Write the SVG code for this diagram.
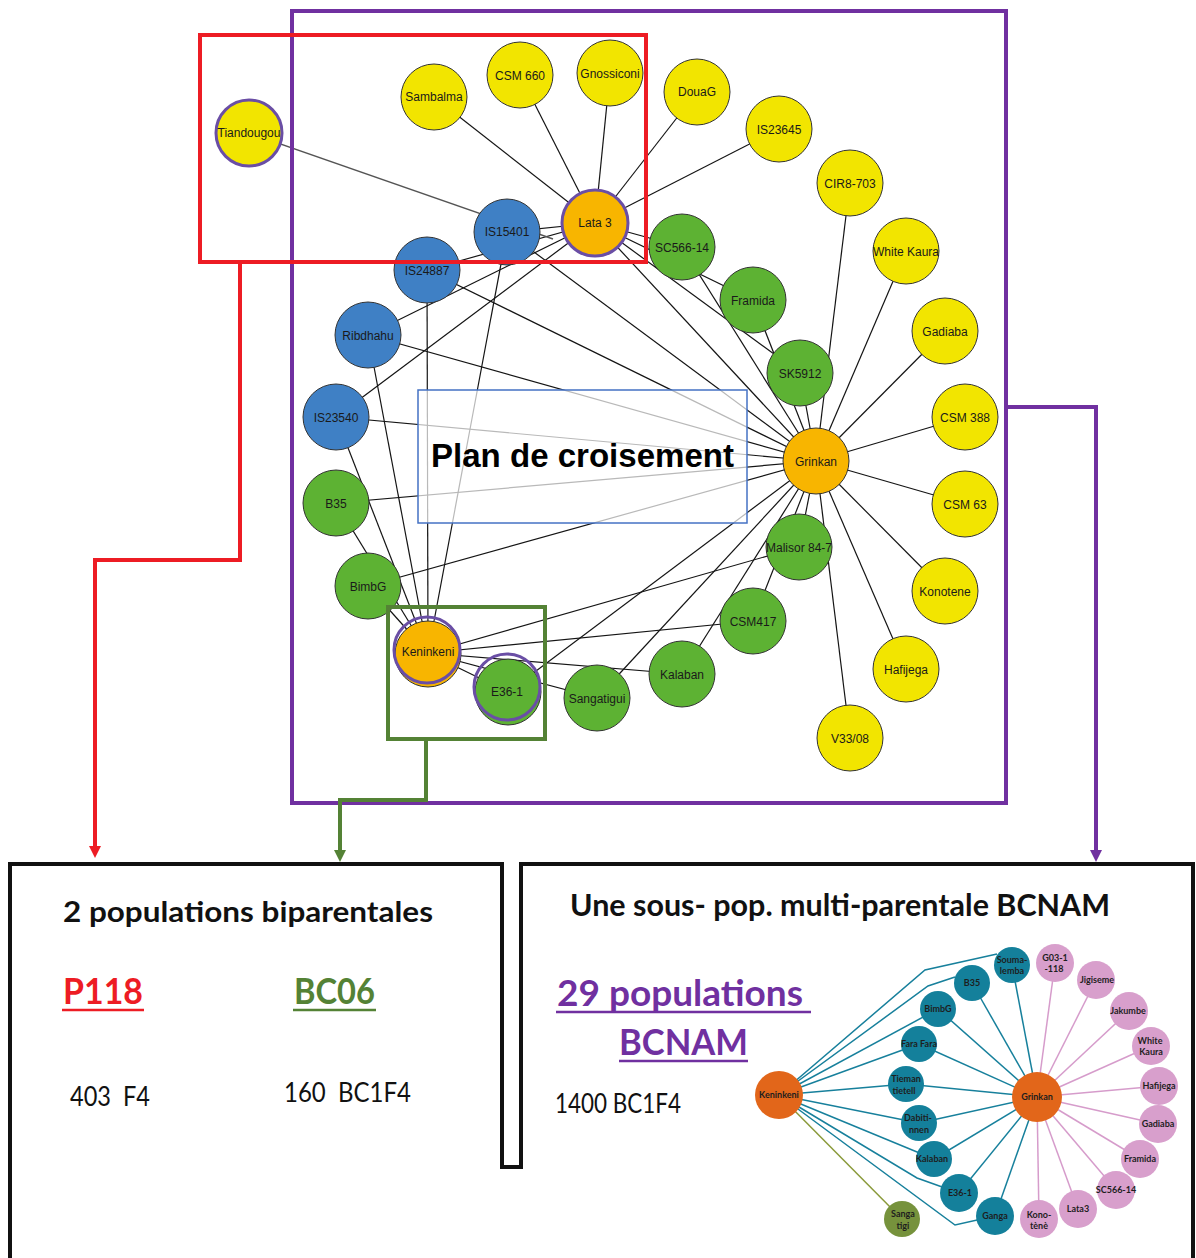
<svg xmlns="http://www.w3.org/2000/svg" width="1196" height="1258" viewBox="0 0 1196 1258">
<defs>
<style>
.e{stroke:#141414;stroke-width:1.2;fill:none}
.nd{stroke:#333;stroke-width:1}
.y{fill:#f2e500}
.bl{fill:#3f80c5}
.gr{fill:#5db233}
.or{fill:#f8b500}
.ring{fill:none;stroke:#6a4ea5;stroke-width:3}
.t{font-family:"Liberation Sans",Arial,sans-serif;font-size:12px;fill:#1a1a1a;text-anchor:middle}
.se{stroke:#17809c;stroke-width:1.5;fill:none}
.pe{stroke:#d69ccb;stroke-width:1.5;fill:none}
.te{fill:#14809b}
.pk{fill:#d89fcc}
.og{fill:#e2661a}
.ol{fill:#76923c}
.st{font-family:Lato,"Liberation Sans",sans-serif;font-weight:bold;font-size:9px;fill:#1e1e1e;text-anchor:middle}
.hd{font-family:Lato,"Liberation Sans",sans-serif;font-weight:bold;fill:#111}
.big{font-family:Lato,"Liberation Sans",sans-serif;font-weight:bold;font-size:37px}
.num{font-family:Lato,"Liberation Sans",sans-serif;font-size:26px;fill:#111;white-space:pre}
.frame{fill:none;stroke-width:4}
</style>
<marker id="mR" viewBox="0 0 12 12" markerWidth="12" markerHeight="12" refX="1" refY="6" orient="auto" markerUnits="userSpaceOnUse"><path d="M0,0 L12,6 L0,12 z" fill="#ed1c24"/></marker>
<marker id="mG" viewBox="0 0 12 12" markerWidth="12" markerHeight="12" refX="1" refY="6" orient="auto" markerUnits="userSpaceOnUse"><path d="M0,0 L12,6 L0,12 z" fill="#548235"/></marker>
<marker id="mP" viewBox="0 0 12 12" markerWidth="12" markerHeight="12" refX="1" refY="6" orient="auto" markerUnits="userSpaceOnUse"><path d="M0,0 L12,6 L0,12 z" fill="#7030a0"/></marker>
</defs>
<rect width="1196" height="1258" fill="#fff"/>

<g id="connectors">
<!-- Lata 3 -->
<line class="e" x1="595" y1="223" x2="434" y2="97"/>
<line class="e" x1="595" y1="223" x2="520" y2="75"/>
<line class="e" x1="595" y1="223" x2="610" y2="73"/>
<line class="e" x1="595" y1="223" x2="697" y2="92"/>
<line class="e" x1="595" y1="223" x2="779" y2="129"/>
<line class="e" x1="595" y1="223" x2="507" y2="232"/>
<line class="e" x1="595" y1="223" x2="427" y2="270"/>
<line class="e" x1="595" y1="223" x2="368" y2="335"/>
<line class="e" x1="595" y1="223" x2="336" y2="417"/>
<line class="e" x1="595" y1="223" x2="682" y2="247"/>
<line class="e" x1="595" y1="223" x2="753" y2="300"/>
<line class="e" x1="595" y1="223" x2="800" y2="373"/>
<line class="e" x1="595" y1="223" x2="816" y2="461"/>
<line x1="249" y1="133" x2="553" y2="239" stroke="#555" stroke-width="1.4"/>
<!-- Grinkan -->
<line class="e" x1="816" y1="461" x2="965" y2="417"/>
<line class="e" x1="816" y1="461" x2="965" y2="504"/>
<line class="e" x1="816" y1="461" x2="945" y2="591"/>
<line class="e" x1="816" y1="461" x2="906" y2="669"/>
<line class="e" x1="816" y1="461" x2="850" y2="738"/>
<line class="e" x1="816" y1="461" x2="945" y2="331"/>
<line class="e" x1="816" y1="461" x2="906" y2="251"/>
<line class="e" x1="816" y1="461" x2="850" y2="183"/>
<line class="e" x1="816" y1="461" x2="800" y2="373"/>
<line class="e" x1="816" y1="461" x2="753" y2="300"/>
<line class="e" x1="816" y1="461" x2="682" y2="247"/>
<line class="e" x1="816" y1="461" x2="799" y2="547"/>
<line class="e" x1="816" y1="461" x2="753" y2="621"/>
<line class="e" x1="816" y1="461" x2="682" y2="674"/>
<line class="e" x1="816" y1="461" x2="597" y2="698"/>
<line class="e" x1="816" y1="461" x2="508" y2="692"/>
<line class="e" x1="816" y1="461" x2="368" y2="586"/>
<line class="e" x1="816" y1="461" x2="336" y2="503"/>
<line class="e" x1="816" y1="461" x2="336" y2="417"/>
<line class="e" x1="816" y1="461" x2="368" y2="335"/>
<line class="e" x1="816" y1="461" x2="427" y2="270"/>
<line class="e" x1="816" y1="461" x2="507" y2="232"/>
<!-- Keninkeni -->
<line class="e" x1="428" y1="653" x2="427" y2="270"/>
<line class="e" x1="428" y1="653" x2="507" y2="232"/>
<line class="e" x1="428" y1="653" x2="368" y2="335"/>
<line class="e" x1="428" y1="653" x2="336" y2="417"/>
<line class="e" x1="428" y1="653" x2="336" y2="503"/>
<line class="e" x1="428" y1="653" x2="368" y2="586"/>
<line class="e" x1="428" y1="653" x2="799" y2="547"/>
<line class="e" x1="428" y1="653" x2="753" y2="621"/>
<line class="e" x1="428" y1="653" x2="682" y2="674"/>
<line class="e" x1="428" y1="653" x2="597" y2="698"/>
<line class="e" x1="428" y1="653" x2="508" y2="692"/>
</g>

<g id="plan-de-croisement">
<rect x="418" y="390" width="329" height="133" fill="#fff" fill-opacity="0.7" stroke="#4472c4" stroke-width="1.5"/>
</g>

<g id="n-tiandougou"><circle class="nd y" cx="249" cy="133" r="33"/><circle class="ring" cx="249" cy="133" r="33"/><text class="t" x="249" y="137" font-size="10.5">Tiandougou</text></g>
<g id="n-sambalma"><circle class="nd y" cx="434" cy="97" r="33"/><text class="t" x="434" y="101">Sambalma</text></g>
<g id="n-csm660"><circle class="nd y" cx="520" cy="75" r="33"/><text class="t" x="520" y="80">CSM 660</text></g>
<g id="n-gnossiconi"><circle class="nd y" cx="610" cy="73" r="33"/><text class="t" x="610" y="78">Gnossiconi</text></g>
<g id="n-douag"><circle class="nd y" cx="697" cy="92" r="33"/><text class="t" x="697" y="96">DouaG</text></g>
<g id="n-is23645"><circle class="nd y" cx="779" cy="129" r="33"/><text class="t" x="779" y="134">IS23645</text></g>
<g id="n-cir8-703"><circle class="nd y" cx="850" cy="183" r="33"/><text class="t" x="850" y="188">CIR8-703</text></g>
<g id="n-whitekaura"><circle class="nd y" cx="906" cy="251" r="33"/><text class="t" x="906" y="256">White Kaura</text></g>
<g id="n-gadiaba"><circle class="nd y" cx="945" cy="331" r="33"/><text class="t" x="945" y="336">Gadiaba</text></g>
<g id="n-csm388"><circle class="nd y" cx="965" cy="417" r="33"/><text class="t" x="965" y="422">CSM 388</text></g>
<g id="n-csm63"><circle class="nd y" cx="965" cy="504" r="33"/><text class="t" x="965" y="509">CSM 63</text></g>
<g id="n-konotene"><circle class="nd y" cx="945" cy="591" r="33"/><text class="t" x="945" y="596">Konotene</text></g>
<g id="n-hafijega"><circle class="nd y" cx="906" cy="669" r="33"/><text class="t" x="906" y="674">Hafijega</text></g>
<g id="n-v3308"><circle class="nd y" cx="850" cy="738" r="33"/><text class="t" x="850" y="743">V33/08</text></g>
<g id="n-lata3"><circle class="nd or" cx="595" cy="223" r="33"/><circle class="ring" cx="595" cy="223" r="33"/><text class="t" x="595" y="227">Lata 3</text></g>
<g id="n-grinkan"><circle class="nd or" cx="816" cy="461" r="33"/><text class="t" x="816" y="466">Grinkan</text></g>
<g id="n-keninkeni"><circle class="nd or" cx="428" cy="654" r="33"/><circle class="ring" cx="427" cy="650" r="33"/><text class="t" x="428" y="656">Keninkeni</text></g>
<g id="n-is15401"><circle class="nd bl" cx="507" cy="232" r="33"/><text class="t" x="507" y="236">IS15401</text></g>
<g id="n-is24887"><circle class="nd bl" cx="427" cy="270" r="33"/><text class="t" x="427" y="275">IS24887</text></g>
<g id="n-ribdhahu"><circle class="nd bl" cx="368" cy="335" r="33"/><text class="t" x="368" y="340">Ribdhahu</text></g>
<g id="n-is23540"><circle class="nd bl" cx="336" cy="417" r="33"/><text class="t" x="336" y="422">IS23540</text></g>
<g id="n-b35"><circle class="nd gr" cx="336" cy="503" r="33"/><text class="t" x="336" y="508">B35</text></g>
<g id="n-bimbg"><circle class="nd gr" cx="368" cy="586" r="33"/><text class="t" x="368" y="591">BimbG</text></g>
<g id="n-e36-1"><circle class="nd gr" cx="508" cy="692" r="33"/><circle class="ring" cx="507" cy="687" r="33"/><text class="t" x="507" y="696">E36-1</text></g>
<g id="n-sangatigui"><circle class="nd gr" cx="597" cy="698" r="33"/><text class="t" x="597" y="703">Sangatigui</text></g>
<g id="n-kalaban"><circle class="nd gr" cx="682" cy="674" r="33"/><text class="t" x="682" y="679">Kalaban</text></g>
<g id="n-csm417"><circle class="nd gr" cx="753" cy="621" r="33"/><text class="t" x="753" y="626">CSM417</text></g>
<g id="n-malisor"><circle class="nd gr" cx="799" cy="547" r="33"/><text class="t" x="799" y="552">Malisor 84-7</text></g>
<g id="n-sk5912"><circle class="nd gr" cx="800" cy="373" r="33"/><text class="t" x="800" y="378">SK5912</text></g>
<g id="n-framida"><circle class="nd gr" cx="753" cy="300" r="33"/><text class="t" x="753" y="305">Framida</text></g>
<g id="n-sc566-14"><circle class="nd gr" cx="682" cy="247" r="33"/><text class="t" x="682" y="252">SC566-14</text></g>

<g id="plan-label"><text x="431" y="467" font-family="'Liberation Sans',Arial,sans-serif" font-weight="bold" font-size="33" fill="#000" textLength="303" lengthAdjust="spacingAndGlyphs">Plan de croisement</text></g>

<g id="frames">
<rect class="frame" x="292" y="11" width="714" height="792" stroke="#7030a0"/>
<rect class="frame" x="200" y="35" width="446" height="227" stroke="#ed1c24"/>
<rect class="frame" x="388" y="607" width="157" height="132" stroke="#548235"/>
<path class="frame" d="M240,262 V560 H95 V847" stroke="#ed1c24" marker-end="url(#mR)"/>
<path class="frame" d="M426,739 V800 H340 V851" stroke="#548235" marker-end="url(#mG)"/>
<path class="frame" d="M1006,407 H1096 V851" stroke="#7030a0" marker-end="url(#mP)"/>
</g>

<g id="panels">
<path d="M10,1258 V864 H502 V1167 H521 V864 H1193 V1258" fill="none" stroke="#111" stroke-width="4"/>
</g>

<g id="panel-left-text">
<text class="hd" x="63" y="922" font-size="28" textLength="370" lengthAdjust="spacingAndGlyphs">2 populations biparentales</text>
<text class="big" x="63" y="1004" fill="#ed1c24" textLength="80" lengthAdjust="spacingAndGlyphs">P118</text>
<line x1="62" y1="1010" x2="144" y2="1010" stroke="#ed1c24" stroke-width="2.5"/>
<text class="big" x="294" y="1004" fill="#548235" textLength="81" lengthAdjust="spacingAndGlyphs">BC06</text>
<line x1="293" y1="1010" x2="376" y2="1010" stroke="#548235" stroke-width="2.5"/>
<text class="num" x="70" y="1106" textLength="80" lengthAdjust="spacingAndGlyphs">403  F4</text>
<text class="num" x="284" y="1102" textLength="127" lengthAdjust="spacingAndGlyphs">160  BC1F4</text>
</g>

<g id="panel-right-text">
<text class="hd" x="570" y="916" font-size="30" textLength="540" lengthAdjust="spacingAndGlyphs">Une sous- pop. multi-parentale BCNAM</text>
<text class="big" x="557" y="1006" fill="#7030a0" textLength="246" lengthAdjust="spacingAndGlyphs">29 populations</text>
<line x1="556" y1="1012" x2="811" y2="1012" stroke="#7030a0" stroke-width="2.5"/>
<text class="big" x="619" y="1055" fill="#7030a0" textLength="129" lengthAdjust="spacingAndGlyphs">BCNAM</text>
<line x1="619" y1="1061" x2="748" y2="1061" stroke="#7030a0" stroke-width="2.5"/>
<text class="num" x="555" y="1113" textLength="126" lengthAdjust="spacingAndGlyphs">1400 BC1F4</text>
</g>

<g id="bcnam-connectors">
<polyline class="se" points="779,1095 925,970 997,954"/>
<polyline class="se" points="779,1095 928,986 955,977"/>
<line class="se" x1="779" y1="1095" x2="938" y2="1009"/>
<line class="se" x1="779" y1="1095" x2="919" y2="1044"/>
<line class="se" x1="779" y1="1095" x2="906" y2="1084"/>
<line class="se" x1="779" y1="1095" x2="919" y2="1123"/>
<line class="se" x1="779" y1="1095" x2="934" y2="1159"/>
<polyline class="se" points="779,1095 917,1178 959,1193"/>
<polyline class="se" points="779,1095 955,1225 995,1216"/>
<line x1="779" y1="1095" x2="902" y2="1219" stroke="#8a9a3a" stroke-width="1.5"/>
<line class="se" x1="1037" y1="1097" x2="1012" y2="965"/>
<line class="se" x1="1037" y1="1097" x2="972" y2="983"/>
<line class="se" x1="1037" y1="1097" x2="938" y2="1009"/>
<line class="se" x1="1037" y1="1097" x2="919" y2="1044"/>
<line class="se" x1="1037" y1="1097" x2="906" y2="1084"/>
<line class="se" x1="1037" y1="1097" x2="919" y2="1123"/>
<line class="se" x1="1037" y1="1097" x2="934" y2="1159"/>
<line class="se" x1="1037" y1="1097" x2="959" y2="1193"/>
<line class="se" x1="1037" y1="1097" x2="995" y2="1216"/>
<line class="pe" x1="1037" y1="1097" x2="1055" y2="963"/>
<line class="pe" x1="1037" y1="1097" x2="1096" y2="980"/>
<line class="pe" x1="1037" y1="1097" x2="1129" y2="1011"/>
<line class="pe" x1="1037" y1="1097" x2="1151" y2="1046"/>
<line class="pe" x1="1037" y1="1097" x2="1159" y2="1086"/>
<line class="pe" x1="1037" y1="1097" x2="1158" y2="1124"/>
<line class="pe" x1="1037" y1="1097" x2="1140" y2="1159"/>
<line class="pe" x1="1037" y1="1097" x2="1116" y2="1190"/>
<line class="pe" x1="1037" y1="1097" x2="1078" y2="1209"/>
<line class="pe" x1="1037" y1="1097" x2="1039" y2="1219"/>
</g>

<g id="b-keninkeni"><circle class="og" cx="779" cy="1095" r="24"/><text class="st" x="779" y="1098">Keninkeni</text></g>
<g id="b-grinkan"><circle class="og" cx="1037" cy="1097" r="25"/><text class="st" x="1037" y="1100">Grinkan</text></g>
<g id="b-soumalemba"><circle class="te" cx="1012" cy="965" r="18"/><text class="st" x="1012" y="963">Souma-</text><text class="st" x="1012" y="974">lemba</text></g>
<g id="b-b35"><circle class="te" cx="972" cy="983" r="18"/><text class="st" x="972" y="986">B35</text></g>
<g id="b-bimbg"><circle class="te" cx="938" cy="1009" r="18"/><text class="st" x="938" y="1012">BimbG</text></g>
<g id="b-farafara"><circle class="te" cx="919" cy="1044" r="18"/><text class="st" x="919" y="1047">Fara Fara</text></g>
<g id="b-tieman"><circle class="te" cx="906" cy="1084" r="18"/><text class="st" x="906" y="1082">Tieman</text><text class="st" x="904" y="1094">tietell</text></g>
<g id="b-dabitinnen"><circle class="te" cx="919" cy="1123" r="18"/><text class="st" x="918" y="1121">Dabiti-</text><text class="st" x="919" y="1133">nnen</text></g>
<g id="b-kalaban"><circle class="te" cx="934" cy="1159" r="18"/><text class="st" x="932" y="1162">Kalaban</text></g>
<g id="b-e36-1"><circle class="te" cx="959" cy="1193" r="19"/><text class="st" x="960" y="1196">E36-1</text></g>
<g id="b-ganga"><circle class="te" cx="995" cy="1216" r="19"/><text class="st" x="995" y="1219">Ganga</text></g>
<g id="b-sangatigi"><circle class="ol" cx="902" cy="1219" r="18"/><text class="st" x="903" y="1217">Sanga</text><text class="st" x="903" y="1229">tigi</text></g>
<g id="b-g03"><circle class="pk" cx="1055" cy="963" r="19"/><text class="st" x="1055" y="961">G03-1</text><text class="st" x="1054" y="972">-118</text></g>
<g id="b-jigiseme"><circle class="pk" cx="1096" cy="980" r="19"/><text class="st" x="1097" y="983">Jigiseme</text></g>
<g id="b-jakumbe"><circle class="pk" cx="1129" cy="1011" r="19"/><text class="st" x="1128" y="1014">Jakumbe</text></g>
<g id="b-whitekaura"><circle class="pk" cx="1151" cy="1046" r="19"/><text class="st" x="1150" y="1044">White</text><text class="st" x="1151" y="1055">Kaura</text></g>
<g id="b-hafijega"><circle class="pk" cx="1159" cy="1086" r="19"/><text class="st" x="1159" y="1089">Hafijega</text></g>
<g id="b-gadiaba"><circle class="pk" cx="1158" cy="1124" r="19"/><text class="st" x="1158" y="1127">Gadiaba</text></g>
<g id="b-framida"><circle class="pk" cx="1140" cy="1159" r="19"/><text class="st" x="1140" y="1162">Framida</text></g>
<g id="b-sc566"><circle class="pk" cx="1116" cy="1190" r="19"/><text class="st" x="1116" y="1193">SC566-14</text></g>
<g id="b-lata3"><circle class="pk" cx="1078" cy="1209" r="19"/><text class="st" x="1078" y="1212">Lata3</text></g>
<g id="b-konotene"><circle class="pk" cx="1039" cy="1219" r="19"/><text class="st" x="1039" y="1218">Kono-</text><text class="st" x="1039" y="1229">tènè</text></g>
</svg>
